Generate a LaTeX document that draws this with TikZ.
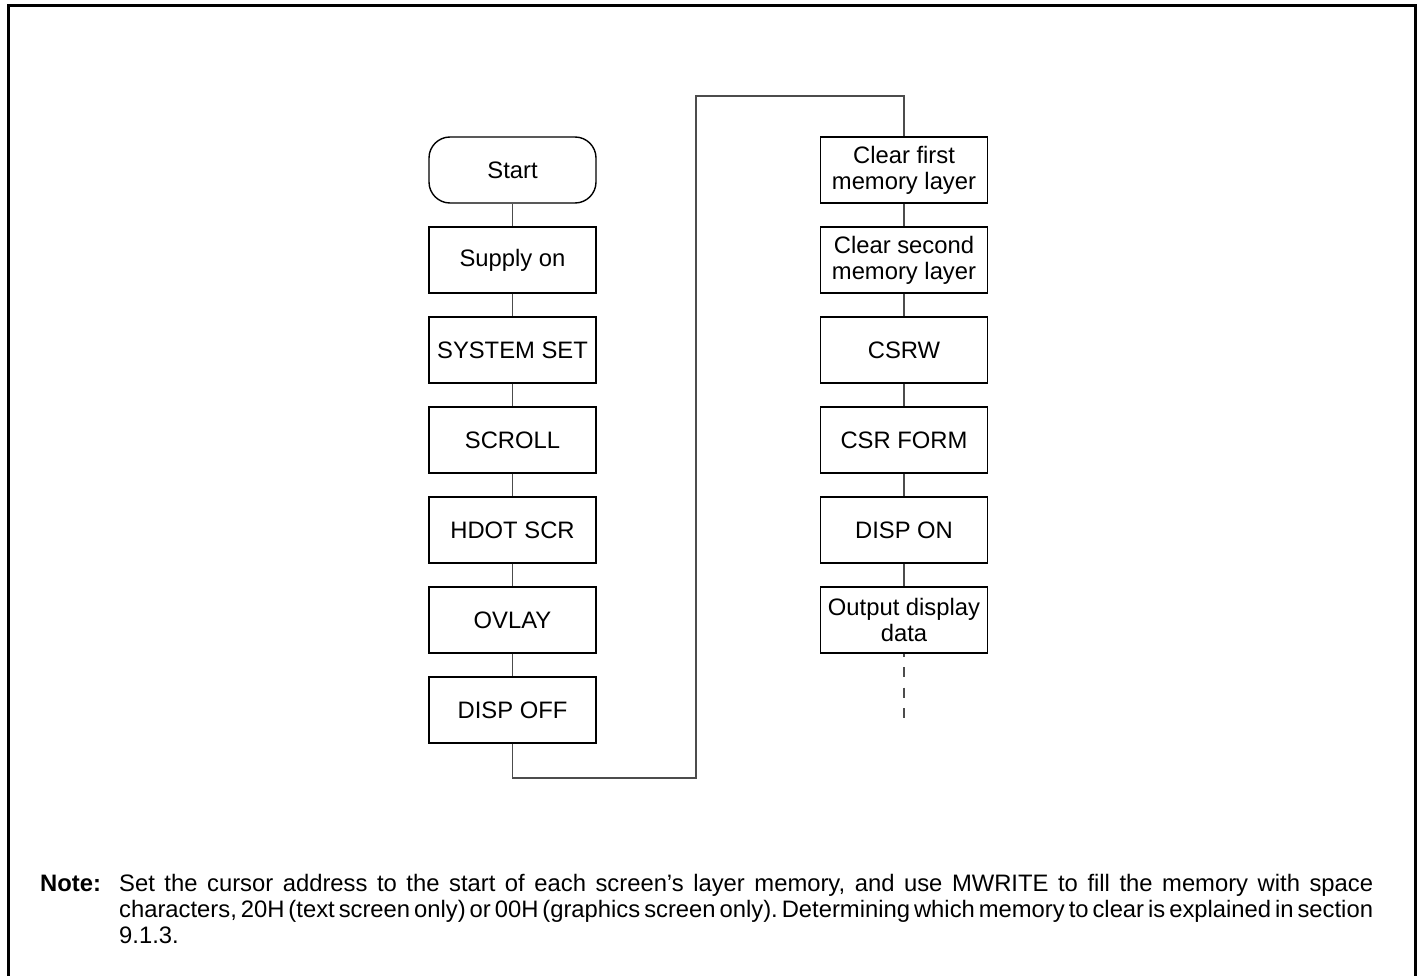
\documentclass[tikz,border=0pt]{standalone}
\usepackage{fontspec}
\setmainfont{Liberation Sans}
\begin{document}
\frenchspacing
\begin{tikzpicture}[x=1pt,y=-1pt,
  stepbox/.style={draw=black, line width=1.4pt, minimum width=167pt, minimum height=66pt, inner sep=2pt, align=center, font=\fontsize{23.8}{26}\selectfont},
  termbox/.style={stepbox, rounded corners=21pt},
  conn/.style={draw=black!70, line width=1.1pt},
  frame/.style={draw=black, line width=2.7pt},
  notefont/.style={font=\fontsize{23.8}{26}\selectfont},
  notelabel/.style={notefont, anchor=base west, inner sep=0pt},
  notetext/.style={notefont, anchor=base west, inner sep=0pt, text width=1254pt, align=justify}]
\useasboundingbox (0,0) rectangle (1421,976);
\draw[frame] (8.5,976) -- (8.5,5.5) -- (1415.5,5.5) -- (1415.5,976);
% left column
\node[termbox] (start) at (512.5,170) {Start};
\node[stepbox] (supply) at (512.5,260) {Supply on};
\node[stepbox] (sysset) at (512.5,350) {SYSTEM SET};
\node[stepbox] (scroll) at (512.5,440) {SCROLL};
\node[stepbox] (hdot) at (512.5,530) {HDOT SCR};
\node[stepbox] (ovlay) at (512.5,620) {OVLAY};
\node[stepbox] (dispoff) at (512.5,710) {DISP OFF};
% right column
\node[stepbox] (clear1) at (904,170) {Clear first\\memory layer};
\node[stepbox] (clear2) at (904,260) {Clear second\\memory layer};
\node[stepbox] (csrw) at (904,350) {CSRW};
\node[stepbox] (csrform) at (904,440) {CSR FORM};
\node[stepbox] (dispon) at (904,530) {DISP ON};
\node[stepbox] (output) at (904,620) {Output display\\data};
% connectors
\draw[conn] (start) -- (supply);
\draw[conn] (supply) -- (sysset);
\draw[conn] (sysset) -- (scroll);
\draw[conn] (scroll) -- (hdot);
\draw[conn] (hdot) -- (ovlay);
\draw[conn] (ovlay) -- (dispoff);
\coordinate (c1) at (696,778);
\coordinate (c2) at (696,96);
\draw[conn] (dispoff.south) |- (c1) -- (c2) -| (clear1.north);
\draw[conn] (clear1) -- (clear2);
\draw[conn] (clear2) -- (csrw);
\draw[conn] (csrw) -- (csrform);
\draw[conn] (csrform) -- (dispon);
\draw[conn] (dispon) -- (output);
\coordinate (dend) at (904,718);
\draw[conn, dash pattern=on 10pt off 10.5pt, dash phase=7pt] (output.south) -- (dend);
% note
\node[notelabel] (notelbl) at (40,891) {\textbf{Note:}};
\node[notetext] (note) at (119,891) {\frenchspacing\spaceskip=0.2em plus 0.6em minus 0.05em\relax Set the cursor address to the start of each screen's layer memory, and use MWRITE to fill the memory with space\linebreak characters, 20H (text screen only) or 00H (graphics screen only). Determining which memory to clear is explained in section\linebreak 9.1.3.};
\end{tikzpicture}
\end{document}
